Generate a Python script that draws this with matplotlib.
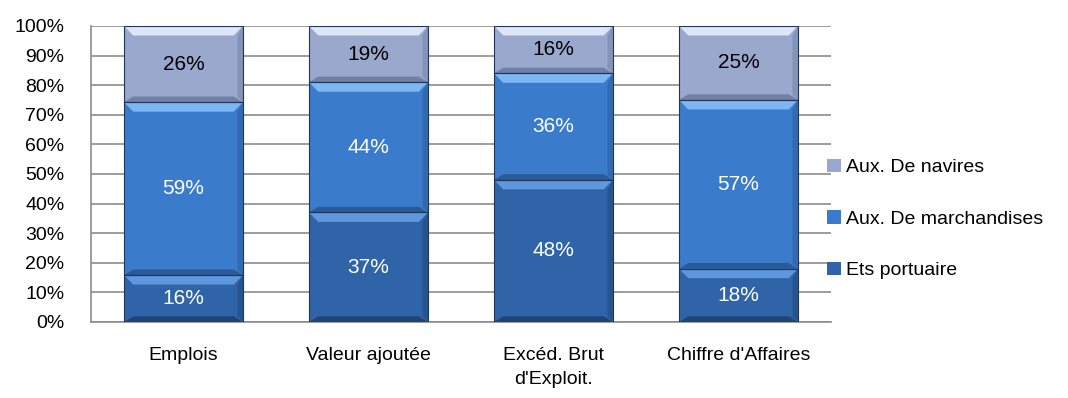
import matplotlib
matplotlib.use("Agg")
import matplotlib.pyplot as plt
from matplotlib.patches import Polygon, Rectangle
import numpy as np

categories = ["Emplois", "Valeur ajoutée", "Excéd. Brut\nd'Exploit.", "Chiffre d'Affaires"]
series_names = ["Ets portuaire", "Aux. De marchandises", "Aux. De navires"]
ets_portuaire = [16, 37, 48, 18]
aux_marchandises = [59, 44, 36, 57]
aux_navires = [26, 19, 16, 25]
y_ticks = [0, 10, 20, 30, 40, 50, 60, 70, 80, 90, 100]

plt.rcParams["font.family"] = ["Liberation Sans", "DejaVu Sans"]

# base, highlight, shadow, label colour per series
styles = [
    ("#3064A8", "#5E97DD", "#1F4578", "white"),
    ("#3B7BCC", "#7CB6F3", "#2A5A98", "white"),
    ("#99A8CC", "#DCE6F7", "#7180A6", "black"),
]

fig = plt.figure(figsize=(10.68, 3.98), dpi=100)
ax = fig.add_axes([91 / 1068, 1 - 322 / 398, (831 - 91) / 1068, 296 / 398])

x = np.arange(len(categories))
width = 0.643
data = np.array([ets_portuaire, aux_marchandises, aux_navires], dtype=float)
totals = data.sum(axis=0)
shares = data / totals * 100

bottom = np.zeros(len(categories))
bx, by = 0.05, 3.2
for s, (vals, name) in enumerate(zip(shares, series_names)):
    base, hi, lo, tc = styles[s]
    bars = ax.bar(x, vals, width, bottom=bottom, color=base, edgecolor="none",
                  label=name, zorder=3)
    for i, b in enumerate(bars):
        x0, y0 = b.get_x(), b.get_y()
        w, h = b.get_width(), b.get_height()
        x1, y1 = x0 + w, y0 + h
        # bevel faces: lit top, shaded bottom and sides
        ax.add_patch(Polygon([(x0, y1), (x1, y1), (x1 - bx, y1 - by), (x0 + bx, y1 - by)],
                             closed=True, facecolor=hi, edgecolor="none", zorder=4))
        ax.add_patch(Polygon([(x0, y0), (x1, y0), (x1 - bx, y0 + by * 0.6), (x0 + bx, y0 + by * 0.6)],
                             closed=True, facecolor=lo, edgecolor="none", zorder=4))
        ax.add_patch(Polygon([(x1, y0), (x1 - bx * 0.6, y0 + by * 0.6), (x1 - bx * 0.6, y1 - by), (x1, y1)],
                             closed=True, facecolor=lo, edgecolor="none", alpha=0.5, zorder=4))
        ax.add_patch(Rectangle((x0, y0), w, h, facecolor="none", edgecolor="#1F355A",
                               linewidth=0.8, zorder=5))
        ax.text(x[i], y0 + h / 2, f"{int(data[s][i])}%", ha="center", va="center",
                color=tc, fontsize=15, zorder=6)
    bottom = bottom + vals

ax.set_xlim(-0.5, 3.5)
ax.set_ylim(0, 100)
ax.set_yticks(y_ticks)
ax.set_yticklabels([f"{t}%" for t in y_ticks], fontsize=14)
ax.set_xticks(x)
ax.set_xticklabels(categories, fontsize=14, linespacing=1.55)
ax.tick_params(axis="x", length=0, pad=18)
ax.tick_params(axis="y", length=0, pad=19)
ax.grid(axis="y", color="#8C8C8C", linewidth=1.2, zorder=0)
for side in ("top", "right"):
    ax.spines[side].set_visible(False)
for side in ("left", "bottom"):
    ax.spines[side].set_color("#8C8C8C")
    ax.spines[side].set_linewidth(1.2)

handles, labels = ax.get_legend_handles_labels()
leg = ax.legend(handles[::-1], labels[::-1], loc="center left",
                bbox_to_anchor=(827 / 1068, 1 - 219 / 398), bbox_transform=fig.transFigure,
                frameon=False, fontsize=14, handlelength=0.7, handleheight=0.7,
                handletextpad=0.3, labelspacing=1.75, borderpad=0, borderaxespad=0)

fig.savefig("out.png", dpi=100, facecolor="white")
